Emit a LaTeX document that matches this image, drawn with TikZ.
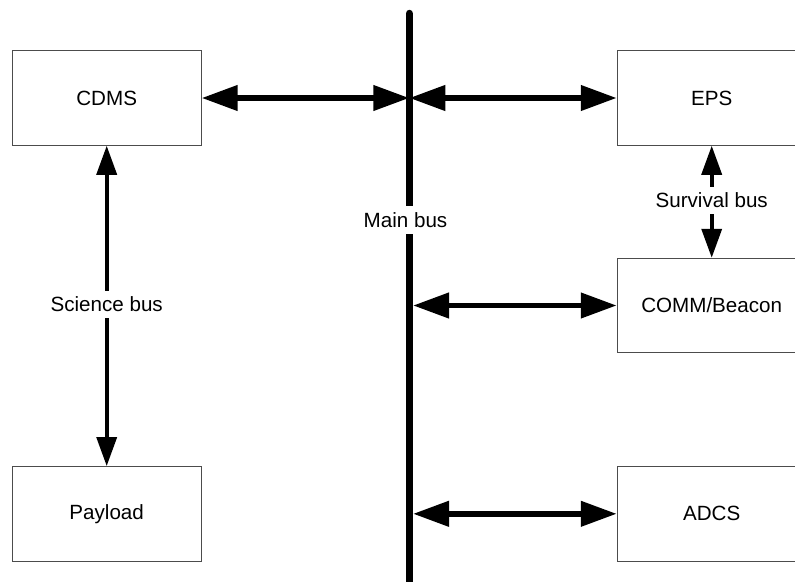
\documentclass[tikz,border=0pt]{standalone}
\usepackage{fontspec}
\setmainfont{Liberation Sans}
\usetikzlibrary{arrows.meta}
\begin{document}
\begin{tikzpicture}[x=1pt,y=-1pt,
  box/.style={draw=black!70,line width=0.9pt,minimum width=189pt,minimum height=94.6pt,inner sep=0pt,font=\fontsize{20.6}{24}\selectfont},
  mainarrow/.style={line width=5.8pt,{Triangle[length=36pt,width=24.5pt]}-{Triangle[length=36pt,width=24.5pt]}},
  subarrow/.style={line width=3.6pt,{Triangle[length=29pt,width=20pt]}-{Triangle[length=29pt,width=20pt]}},
  buslabel/.style={fill=white,inner xsep=1pt,inner ysep=6pt,font=\fontsize{20.6}{24}\selectfont}
]
\useasboundingbox (0,0) rectangle (795,581);
\node[box] (cdms) at (106.7,98) {CDMS};
\node[box] (payload) at (106.7,513.8) {Payload};
\node[box] (eps) at (711.7,98) {EPS};
\node[box] (comm) at (711.7,305.5) {COMM/Beacon};
\node[box] (adcs) at (711.7,513.8) {ADCS};
% main bus
\coordinate (bustop) at (409.3,13.5);
\coordinate (busbot) at (409.3,592);
\draw[line width=7.5pt,line cap=round] (bustop) -- (busbot);
\node[buslabel] (mainlabel) at (405.5,220) {Main bus};
% connection points on bus
\coordinate (b1) at (409.3,98);
\coordinate (b2) at (413,305.5);
\coordinate (b3) at (413,513.8);
\draw[mainarrow] (cdms.east) -- (b1);
\draw[mainarrow] (b1) -- (eps.west);
\draw[mainarrow] (b2) -- (comm.west);
\draw[mainarrow] (b3) -- (adcs.west);
% sub buses
\draw[subarrow] (cdms.south) -- node[buslabel,pos=0.495] (scilabel) {Science bus} (payload.north);
\draw[subarrow] (eps.south) -- node[buslabel,pos=0.49] (survlabel) {Survival bus} (comm.north);
\end{tikzpicture}
\end{document}
